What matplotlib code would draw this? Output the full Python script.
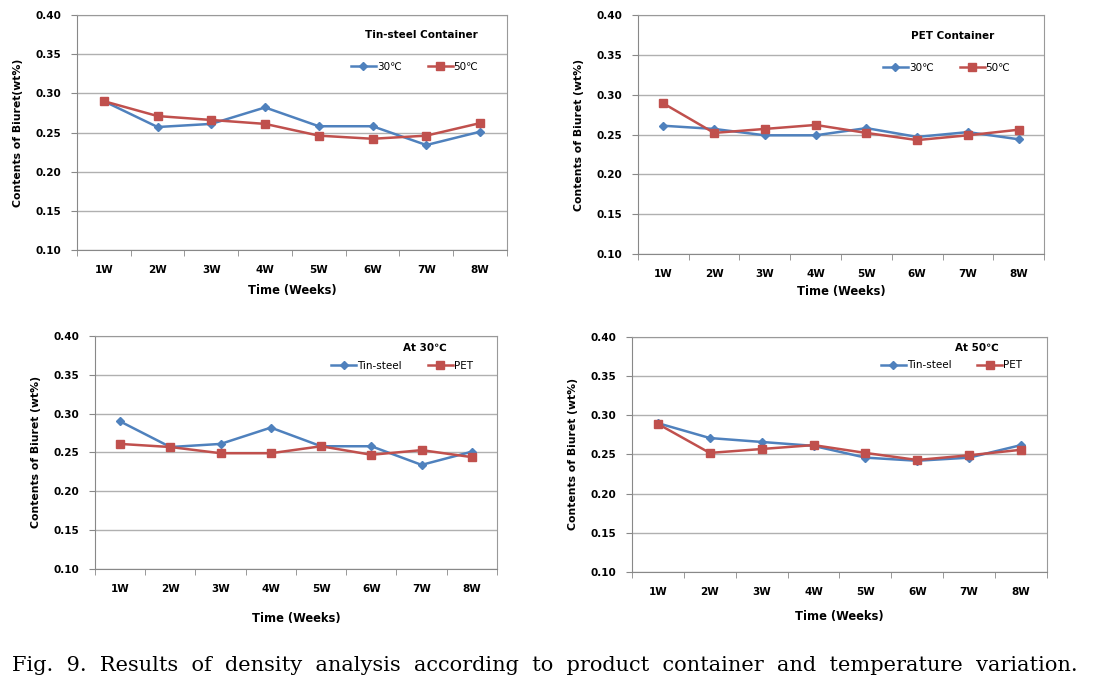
import matplotlib
matplotlib.use('Agg')
import matplotlib.pyplot as plt

plt.rcParams['font.family'] = ['DejaVu Sans', 'Noto Sans CJK KR']

weeks = ['1W', '2W', '3W', '4W', '5W', '6W', '7W', '8W']
tin_30 = [0.290, 0.257, 0.261, 0.282, 0.258, 0.258, 0.234, 0.251]
tin_50 = [0.290, 0.271, 0.266, 0.261, 0.246, 0.242, 0.246, 0.262]
pet_30 = [0.261, 0.257, 0.249, 0.249, 0.258, 0.247, 0.253, 0.244]
pet_50 = [0.289, 0.252, 0.257, 0.262, 0.252, 0.243, 0.249, 0.256]

BLUE = '#4F81BD'
RED = '#C0504D'

fig = plt.figure(figsize=(10.93, 6.88), dpi=100)

# rect, title, ylabel, series, labels, title pos, legend pos, xlabel pad
panels = [
    ([0.0704, 0.6366, 0.3934, 0.3416], 'Tin-steel Container', 'Contents of Biuret(wt%)',
     tin_30, tin_50, ['30℃', '50℃'], (0.80, 0.915), (0.785, 0.78), 6),
    ([0.5837, 0.6308, 0.3715, 0.3474], 'PET Container', 'Contents of Biuret (wt%)',
     pet_30, pet_50, ['30℃', '50℃'], (0.776, 0.912), (0.76, 0.78), 4),
    ([0.0869, 0.1730, 0.3678, 0.3387], 'At 30℃', 'Contents of Biuret (wt%)',
     tin_30, pet_30, ['Tin-steel', 'PET'], (0.82, 0.948), (0.764, 0.871), 13),
    ([0.5782, 0.1686, 0.3797, 0.3416], 'At 50℃', 'Contents of Biuret (wt%)',
     tin_50, pet_50, ['Tin-steel', 'PET'], (0.83, 0.953), (0.77, 0.88), 9),
]

x = list(range(len(weeks)))
for rect, title, ylab, s1, s2, labels, tpos, lpos, xpad in panels:
    ax = fig.add_axes(rect)
    ax.plot(x, s1, color=BLUE, lw=1.8, marker='D', ms=4.5, label=labels[0], zorder=3)
    ax.plot(x, s2, color=RED, lw=1.8, marker='s', ms=6, label=labels[1], zorder=3)
    ax.set_xlim(-0.5, 7.5)
    ax.set_ylim(0.10, 0.40)
    ax.set_yticks([0.10, 0.15, 0.20, 0.25, 0.30, 0.35, 0.40])
    ax.set_yticklabels(['%.2f' % v for v in ax.get_yticks()], fontweight='bold', fontsize=7.5)
    ax.set_xticks(x)
    ax.set_xticklabels(weeks, fontweight='bold', fontsize=7.5)
    ax.set_xticks([i - 0.5 for i in range(9)], minor=True)
    ax.tick_params(axis='x', which='major', length=0, pad=11)
    ax.tick_params(axis='x', which='minor', length=4, color='#888888')
    ax.tick_params(axis='y', length=4, color='#888888', pad=7)
    ax.grid(axis='y', color='#b0b0b0', lw=1)
    ax.set_axisbelow(True)
    for side in ['top', 'right']:
        ax.spines[side].set_color('#999999')
    for side in ['left', 'bottom']:
        ax.spines[side].set_color('#888888')
    ax.set_xlabel('Time (Weeks)', fontweight='bold', fontsize=8.3, labelpad=xpad)
    ax.set_ylabel(ylab, fontweight='bold', fontsize=7.8, labelpad=9)
    ax.text(tpos[0], tpos[1], title, transform=ax.transAxes, ha='center', va='center',
            fontweight='bold', fontsize=7.5)
    ax.legend(loc='center', bbox_to_anchor=lpos, ncol=2, frameon=False, fontsize=7.5,
              handlelength=2.4, columnspacing=2.5, handletextpad=0.1, borderpad=0)

caption = 'Fig. 9. Results of density analysis according to product container and temperature variation.'
fig.text(0.011, 0.033, '  '.join(caption.split(' ')),
         family='DejaVu Serif', fontsize=15, va='center', ha='left')

fig.savefig('out.png', dpi=100)
